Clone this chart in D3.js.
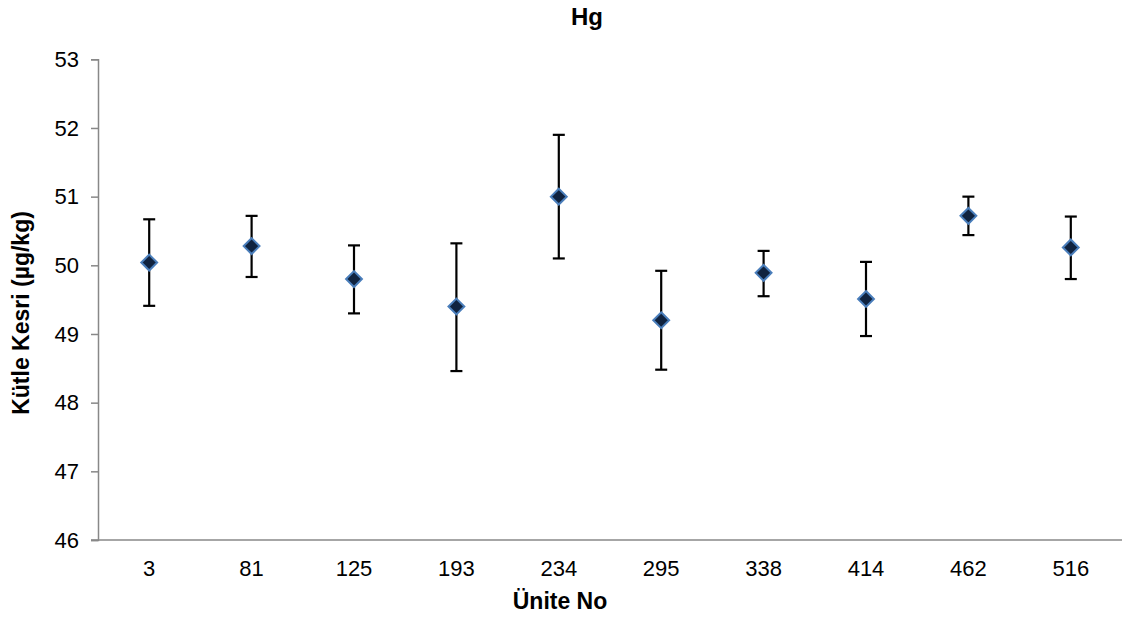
<!DOCTYPE html>
<html>
<head>
<meta charset="utf-8">
<script src="https://cdn.jsdelivr.net/npm/d3@7"></script>
<style>
  html, body { margin: 0; padding: 0; background: #fff; }
  svg text { font-family: "Liberation Sans", Arial, sans-serif; fill: #000; }
</style>
</head>
<body>
<svg id="chart" width="1126" height="620"></svg>
<script>
// Hg mass fraction per unit, with uncertainty bounds
const units = ["3", "81", "125", "193", "234", "295", "338", "414", "462", "516"];
const means = [50.04, 50.28, 49.80, 49.40, 51.00, 49.20, 49.89, 49.51, 50.72, 50.26];
const upper = [50.67, 50.72, 50.29, 50.32, 51.90, 49.92, 50.21, 50.05, 51.00, 50.71];
const lower = [49.41, 49.83, 49.30, 48.46, 50.10, 48.48, 49.55, 48.97, 50.44, 49.80];
const yTicks = [46, 47, 48, 49, 50, 51, 52, 53];

const svg = d3.select("#chart");
const plotLeft = 98, plotRight = 1122, plotTop = 59.3, plotBottom = 540;

const x = d3.scaleBand().domain(units).range([plotLeft, plotRight]).padding(0);
const y = d3.scaleLinear().domain([46, 53]).range([plotBottom, plotTop]);

const rows = units.map((u, i) => ({ u, m: means[i], hi: upper[i], lo: lower[i] }));

// Y axis
const yAxis = svg.append("g")
  .attr("transform", `translate(${plotLeft},0)`)
  .call(d3.axisLeft(y).tickValues(yTicks).tickSize(7).tickPadding(12).tickFormat(d3.format("d")));
yAxis.select(".domain").attr("stroke", "#888").attr("stroke-width", 1.5);
yAxis.selectAll(".tick line").attr("stroke", "#888").attr("stroke-width", 1.5);
yAxis.selectAll(".tick text").attr("font-size", 22).attr("fill", "#000")
  .style("font-family", "'Liberation Sans', Arial, sans-serif");

// X axis (no tick marks)
const xAxis = svg.append("g")
  .attr("transform", `translate(0,${plotBottom})`)
  .call(d3.axisBottom(x).tickSize(0).tickPadding(20));
xAxis.select(".domain").attr("stroke", "#888").attr("stroke-width", 1.5)
  .attr("d", `M${plotLeft - 7},0H${plotRight}`);
xAxis.selectAll(".tick text").attr("font-size", 22).attr("fill", "#000")
  .style("font-family", "'Liberation Sans', Arial, sans-serif");

// Error bars
const cx = d => x(d.u) + x.bandwidth() / 2;
const eb = svg.append("g").attr("stroke", "#000").attr("stroke-width", 2.2);
eb.selectAll("line.v").data(rows).join("line").attr("class", "v")
  .attr("x1", cx).attr("x2", cx)
  .attr("y1", d => y(d.hi)).attr("y2", d => y(d.lo));
eb.selectAll("line.hi").data(rows).join("line").attr("class", "hi")
  .attr("x1", d => cx(d) - 6).attr("x2", d => cx(d) + 6)
  .attr("y1", d => y(d.hi)).attr("y2", d => y(d.hi));
eb.selectAll("line.lo").data(rows).join("line").attr("class", "lo")
  .attr("x1", d => cx(d) - 6).attr("x2", d => cx(d) + 6)
  .attr("y1", d => y(d.lo)).attr("y2", d => y(d.lo));

// Diamond markers
const diamond = d3.symbol().type(d3.symbolDiamond2).size(160);
svg.append("g").selectAll("path").data(rows).join("path")
  .attr("d", diamond)
  .attr("transform", d => `translate(${cx(d)},${y(d.m)})`)
  .attr("fill", "#10233f")
  .attr("stroke", "#4a7ebb")
  .attr("stroke-width", 2);

// Titles
svg.append("text").attr("x", 587).attr("y", 25)
  .attr("text-anchor", "middle").attr("font-size", 24).attr("font-weight", "bold")
  .text("Hg");
svg.append("text").attr("x", 560).attr("y", 609)
  .attr("text-anchor", "middle").attr("font-size", 23).attr("font-weight", "bold")
  .text("Ünite No");
svg.append("text")
  .attr("transform", "translate(29,313) rotate(-90)")
  .attr("text-anchor", "middle").attr("font-size", 23).attr("font-weight", "bold")
  .text("Kütle Kesri (µg/kg)");
</script>
</body>
</html>
